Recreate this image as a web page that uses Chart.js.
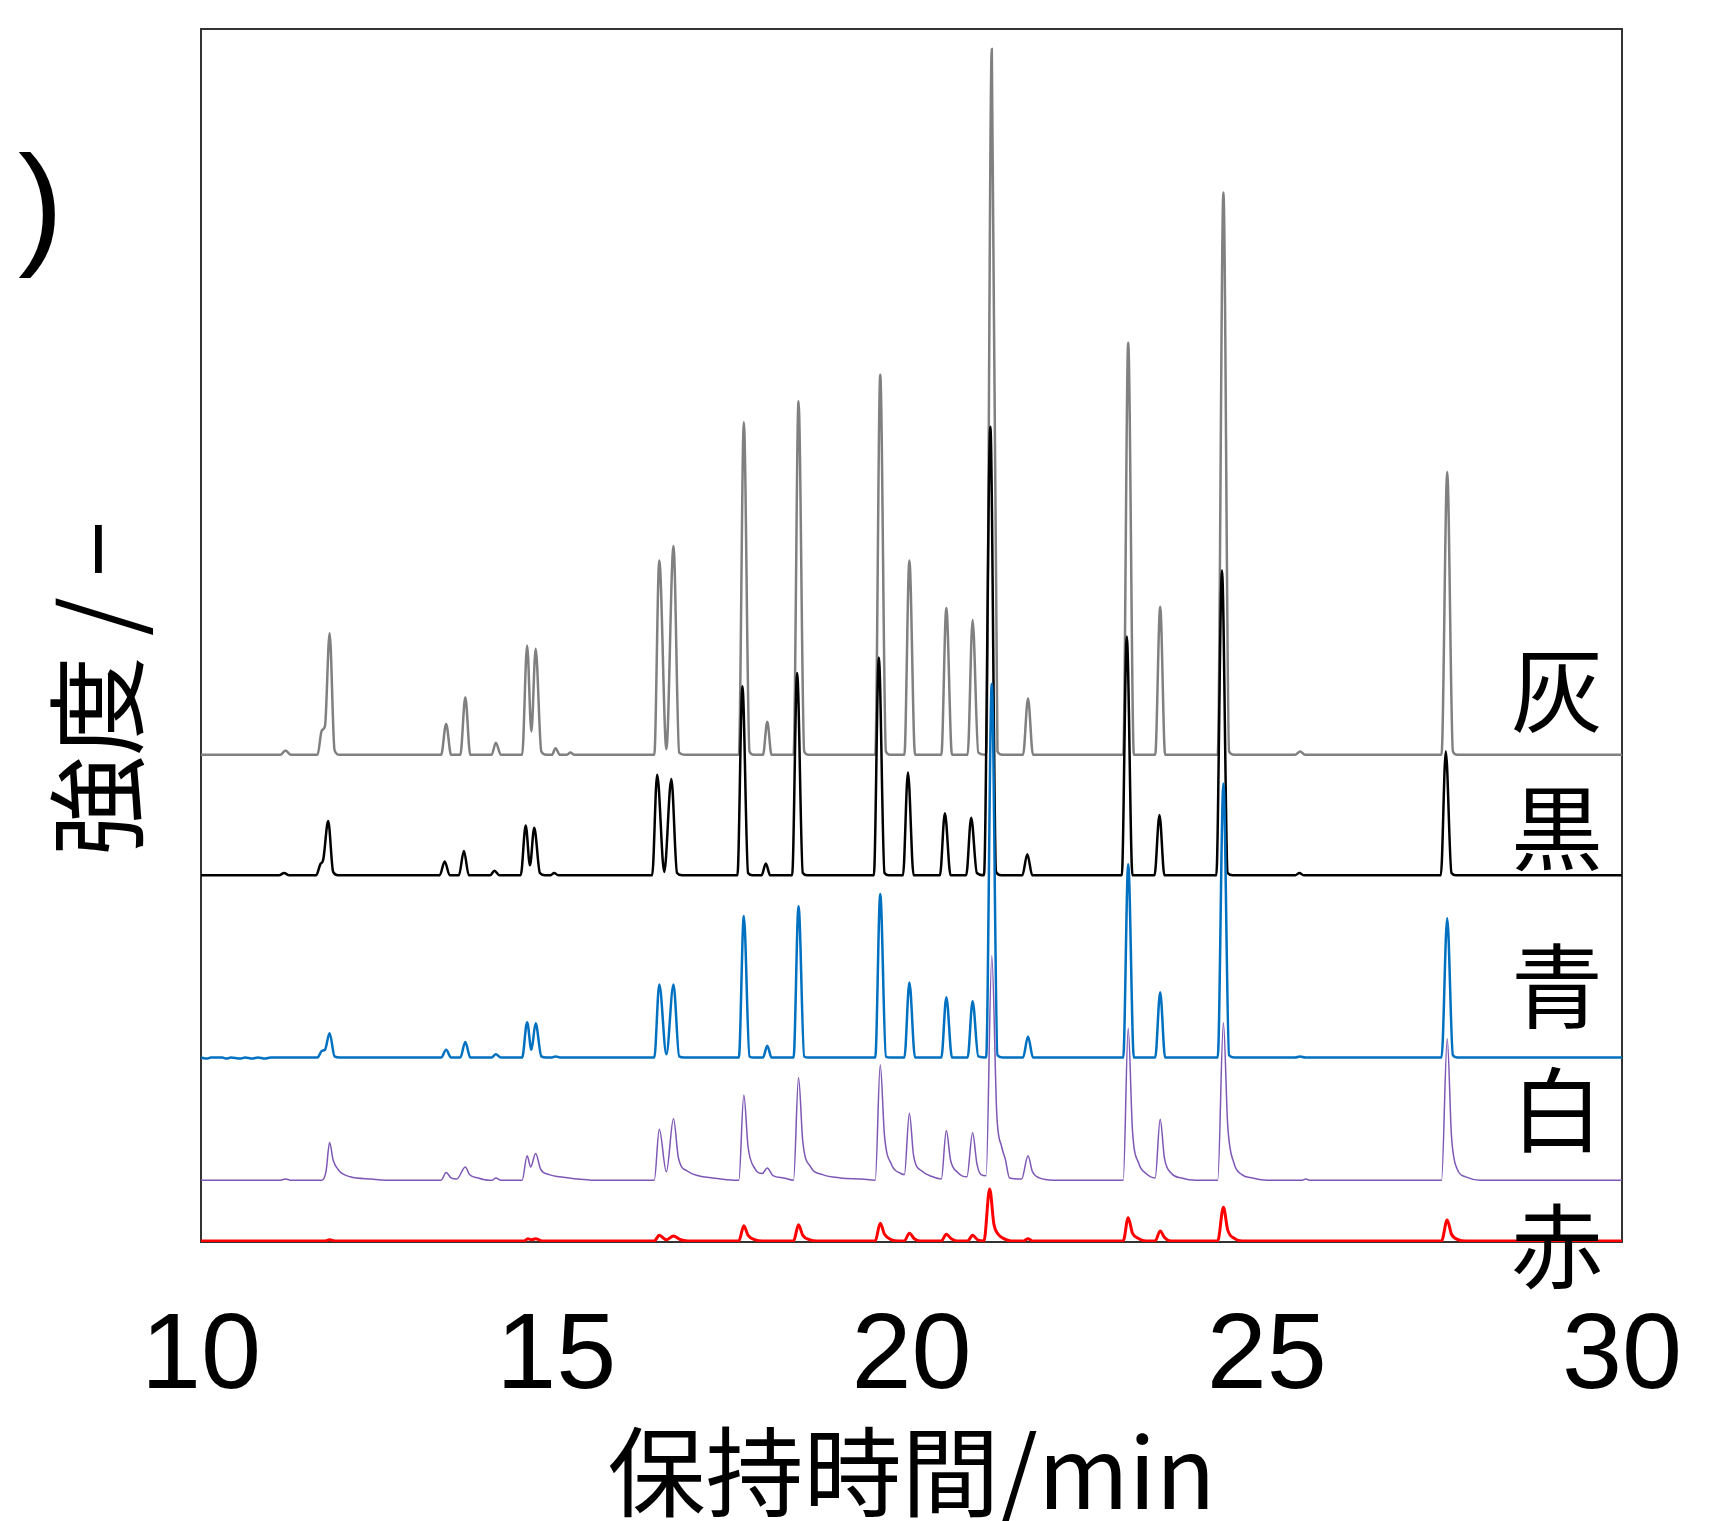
<!DOCTYPE html>
<html>
<head>
<meta charset="utf-8">
<script src="https://cdn.jsdelivr.net/npm/chart.js@4/dist/chart.umd.min.js"></script>
<style>
html,body{margin:0;padding:0;background:#fff;overflow:hidden;}
canvas{display:block;}
</style>
</head>
<body>
<canvas id="c" width="1731" height="1521"></canvas>
<script>
// ---- data (retention time [min], intensity relative to each trace's own baseline) ----
const timeTicks = [10, 15, 20, 25, 30];
const seriesNames = ['灰', '黒', '青', '白', '赤'];
const baselineOffsets = [441, 332, 167, 56, 1];

const grayTrace = [
[10,0],[11.12,0],[11.19,4],[11.26,0],
[11.64,0],[11.70,22],[11.745,26],[11.81,110],[11.88,4],[11.95,0],
[13.38,0],[13.45,28],[13.52,0],[13.65,0],[13.72,52],[13.79,0],
[14.09,0],[14.15,11],[14.22,0],
[14.52,0],[14.59,99],[14.65,21],[14.71,96],[14.79,3],[14.86,0],
[14.94,0],[14.99,6],[15.05,0],[15.15,0],[15.2,2],[15.25,0],
[16.38,0],[16.45,176],[16.55,5],[16.65,189],[16.73,2],[16.80,0],
[17.57,0],[17.64,301],[17.72,3],[17.78,0],
[17.91,0],[17.97,30],[18.03,0],
[18.34,0],[18.41,320],[18.49,3],[18.55,0],
[19.49,0],[19.56,344],[19.64,3],[19.70,0],
[19.90,0],[19.97,176],[20.05,0],
[20.42,0],[20.49,133],[20.57,0],
[20.79,0],[20.86,122],[20.94,2],[21.05,0],
[21.13,639],[21.21,3],[21.28,0],
[21.57,0],[21.64,51],[21.71,0],
[22.98,0],[23.05,373],[23.13,0],
[23.43,0],[23.50,134],[23.57,0],
[24.31,0],[24.39,509],[24.47,3],[24.54,0],
[25.40,0],[25.47,3],[25.54,0],
[27.46,0],[27.54,256],[27.62,3],[27.68,0],
[30,0]
];

const blackTrace = [
[10,0],[11.10,0],[11.17,2],[11.24,0],
[11.62,0],[11.68,10],[11.72,14],[11.79,49],[11.86,3],[11.93,0],
[13.36,0],[13.43,12.5],[13.50,0],[13.63,0],[13.70,22],[13.77,0],
[14.07,0],[14.13,4],[14.20,0],
[14.50,0],[14.57,45],[14.63,9],[14.69,43],[14.77,2],[14.84,0],
[14.92,0],[14.97,2],[15.03,0],
[16.35,0],[16.42,91],[16.52,3],[16.62,87],[16.70,2],[16.77,0],
[17.55,0],[17.62,171],[17.70,2],[17.76,0],
[17.89,0],[17.95,10.6],[18.01,0],
[18.32,0],[18.39,183],[18.47,2],[18.53,0],
[19.47,0],[19.54,197],[19.62,2],[19.68,0],
[19.88,0],[19.95,93],[20.03,0],
[20.40,0],[20.47,56],[20.55,0],
[20.77,0],[20.84,52],[20.92,2],[21.02,0],
[21.11,406],[21.19,3],[21.26,0],
[21.56,0],[21.63,19],[21.70,0],
[22.96,0],[23.03,216],[23.11,0],
[23.42,0],[23.49,54.5],[23.56,0],
[24.29,0],[24.37,276],[24.45,2],[24.52,0],
[25.40,0],[25.46,2],[25.52,0],
[27.45,0],[27.52,112],[27.60,2],[27.66,0],
[30,0]
];

const blueTrace = [
[10,0],[10.08,-1],[10.14,0],[10.3,0],[10.36,-1],[10.42,0],[10.55,-1],[10.62,0],
[10.72,-1],[10.8,0],[10.9,-1],[10.98,0],
[11.64,0],[11.70,6],[11.745,7],[11.81,22],[11.88,1],[11.95,0],
[13.38,0],[13.45,7],[13.52,0],[13.65,0],[13.72,14],[13.79,0],
[14.09,0],[14.15,3],[14.22,0],
[14.52,0],[14.59,32],[14.65,7],[14.71,31],[14.79,1],[14.86,0],
[14.94,0],[14.99,1],[15.05,0],
[16.38,0],[16.45,66],[16.55,3],[16.65,66],[16.73,1],[16.80,0],
[17.57,0],[17.64,128],[17.72,1],[17.78,0],
[17.91,0],[17.97,10.6],[18.03,0],
[18.34,0],[18.41,137],[18.49,1],[18.55,0],
[19.49,0],[19.56,148],[19.64,1],[19.70,0],
[19.90,0],[19.97,68],[20.05,0],
[20.42,0],[20.49,54.5],[20.57,0],
[20.79,0],[20.86,51],[20.94,1],[21.05,0],
[21.13,338],[21.21,2],[21.28,0],
[21.57,0],[21.64,19],[21.71,0],
[22.98,0],[23.05,175],[23.13,0],
[23.43,0],[23.50,59],[23.57,0],
[24.31,0],[24.39,248],[24.47,2],[24.54,0],
[25.40,0],[25.47,1],[25.54,0],
[27.46,0],[27.54,126],[27.62,2],[27.68,0],
[30,0]
];

const whiteTrace = [
[10,0],[11.12,0],[11.19,1],[11.26,0],
[11.70,0],[11.76,8],[11.81,34],[11.86,18],[11.95,8],[12.1,3],[12.4,1],[12.6,0],
[13.38,0],[13.45,7],[13.52,2],[13.60,1],[13.72,12],[13.78,5],[13.9,2],[14.05,0],
[14.10,0],[14.15,2],[14.22,0],
[14.52,0],[14.59,22],[14.64,12],[14.71,24],[14.78,10],[14.9,5],[15.05,3],[15.3,1],[15.5,0],
[16.38,0],[16.45,46],[16.55,7.5],[16.65,55.5],[16.72,20],[16.85,8],[17.0,4],[17.2,2],[17.5,0],
[17.57,0],[17.64,77],[17.70,30],[17.80,10],[17.9,6],[17.97,11],[18.05,4],[18.2,2],[18.34,0],
[18.41,93],[18.47,35],[18.58,12],[18.75,5],[19.0,2],[19.3,1],[19.49,0],
[19.56,104.5],[19.62,40],[19.72,14],[19.85,6],[19.90,5],[19.97,60.6],[20.03,22],[20.15,8],[20.3,3],[20.42,1],
[20.49,45],[20.55,18],[20.65,7],[20.78,3],[20.86,43],[20.92,15],[20.98,5],[21.05,4],
[21.13,203],[21.20,60],[21.27,30],[21.32,19],[21.38,2],[21.55,1],
[21.64,22],[21.70,8],[21.80,2],[22.0,0],
[22.98,0],[23.05,137.5],[23.11,45],[23.20,15],[23.30,6],[23.43,2],
[23.50,55],[23.56,20],[23.66,6],[23.80,2],[24.0,0],
[24.31,0],[24.39,142.4],[24.45,50],[24.54,15],[24.65,5],[24.8,2],[25.0,0],
[25.5,0],[25.55,1],[25.6,0],
[27.46,0],[27.54,128],[27.60,40],[27.68,10],[27.80,3],[28.0,0],
[30,0]
];

const redTrace = [
[10,0],[11.75,0],[11.81,1],[11.88,0],
[14.55,0],[14.6,2],[14.65,1],[14.71,2],[14.8,0],
[16.38,0],[16.45,5],[16.55,1],[16.65,4.5],[16.75,1],[16.85,0],
[17.57,0],[17.64,13.6],[17.70,5],[17.8,1],[17.9,0],
[18.34,0],[18.41,14.6],[18.47,5],[18.57,1],[18.67,0],
[19.49,0],[19.56,16],[19.62,6],[19.72,1],[19.82,0],
[19.90,0],[19.97,7],[20.04,2],[20.12,0],
[20.42,0],[20.49,6],[20.56,2],[20.64,0],
[20.79,0],[20.86,5],[20.93,1],[21.02,0],
[21.10,47],[21.16,15],[21.22,6],[21.30,2],[21.4,0],
[21.58,0],[21.64,2],[21.70,0],
[22.98,0],[23.05,21],[23.11,7],[23.2,2],[23.3,0],
[23.43,0],[23.50,9],[23.56,3],[23.65,0],
[24.31,0],[24.39,30.5],[24.45,10],[24.55,2],[24.65,0],
[27.46,0],[27.54,19],[27.60,6],[27.70,1],[27.8,0],
[30,0]
];

// ---- styling ----
const traces = [grayTrace, blackTrace, blueTrace, whiteTrace, redTrace];
const colors = ['#808080', '#000000', '#0070C0', '#7E57B5', '#FF0000'];
const widths = [2.5, 2.5, 2.5, 1.5, 3];

const datasets = traces.map((tr, i) => ({
  label: seriesNames[i],
  data: tr.map(([t, v]) => ({x: t, y: v + baselineOffsets[i]})),
  borderColor: colors[i],
  borderWidth: widths[i],
  pointRadius: 0,
  fill: false,
  cubicInterpolationMode: 'monotone',
  order: 5 - i
}));

const cjk = '"Noto Sans CJK JP", "Noto Sans CJK SC", sans-serif';

const framePlugin = {
  id: 'frame',
  beforeDatasetsDraw(chart) {
    const {ctx, chartArea: a} = chart;
    ctx.save();
    ctx.strokeStyle = '#333';
    ctx.lineWidth = 2;
    ctx.strokeRect(a.left, a.top, a.right - a.left, a.bottom - a.top);
    ctx.restore();
  }
};

const labelPlugin = {
  id: 'seriesLabels',
  afterDatasetsDraw(chart) {
    const {ctx} = chart;
    const labelY = [690, 828, 986, 1110, 1246];
    ctx.save();
    ctx.fillStyle = '#000';
    ctx.font = '92px ' + cjk;
    ctx.textAlign = 'center';
    ctx.textBaseline = 'middle';
    seriesNames.forEach((n, i) => ctx.fillText(n, 1557, labelY[i]));
    // fragment of panel label at the left edge
    ctx.font = '136px "Liberation Sans", Arial, sans-serif';
    ctx.textAlign = 'left';
    ctx.textBaseline = 'alphabetic';
    ctx.fillText(')', 18, 250);
    ctx.restore();
  }
};

new Chart(document.getElementById('c'), {
  type: 'line',
  data: {datasets},
  plugins: [framePlugin, labelPlugin],
  options: {
    responsive: false,
    animation: false,
    devicePixelRatio: 1,
    layout: {padding: {left: 0, right: 109, top: 29, bottom: 0}},
    plugins: {legend: {display: false}, tooltip: {enabled: false}},
    scales: {
      x: {
        type: 'linear',
        min: 10, max: 30,
        afterBuildTicks: (s) => { s.ticks = timeTicks.map(v => ({value: v})); },
        afterFit: (s) => { s.height = 279; s.paddingLeft = 0; s.paddingRight = 0; },
        grid: {display: false, drawTicks: false},
        border: {display: false},
        ticks: {
          color: '#000',
          padding: 62,
          autoSkip: false,
          maxRotation: 0,
          font: {family: '"Liberation Sans", Arial, sans-serif', size: 108, lineHeight: 1.0},
          callback: (v) => String(v)
        },
        title: {
          display: true,
          text: '保持時間/min',
          color: '#000',
          font: {family: cjk, size: 98, lineHeight: 1.0},
          padding: {top: 0, bottom: 0}
        }
      },
      y: {
        type: 'linear',
        min: 0, max: 1098,
        afterFit: (s) => { s.width = 201; s.paddingTop = 0; s.paddingBottom = 0; },
        grid: {display: false, drawTicks: false},
        border: {display: false},
        ticks: {display: false},
        title: {
          display: true,
          text: '強度\u2009/\u2009−\u3000\u200A',
          color: '#000',
          font: {family: cjk, size: 100, lineHeight: 1.0},
          padding: {top: 47, bottom: 0}
        }
      }
    }
  }
});
</script>
</body>
</html>
